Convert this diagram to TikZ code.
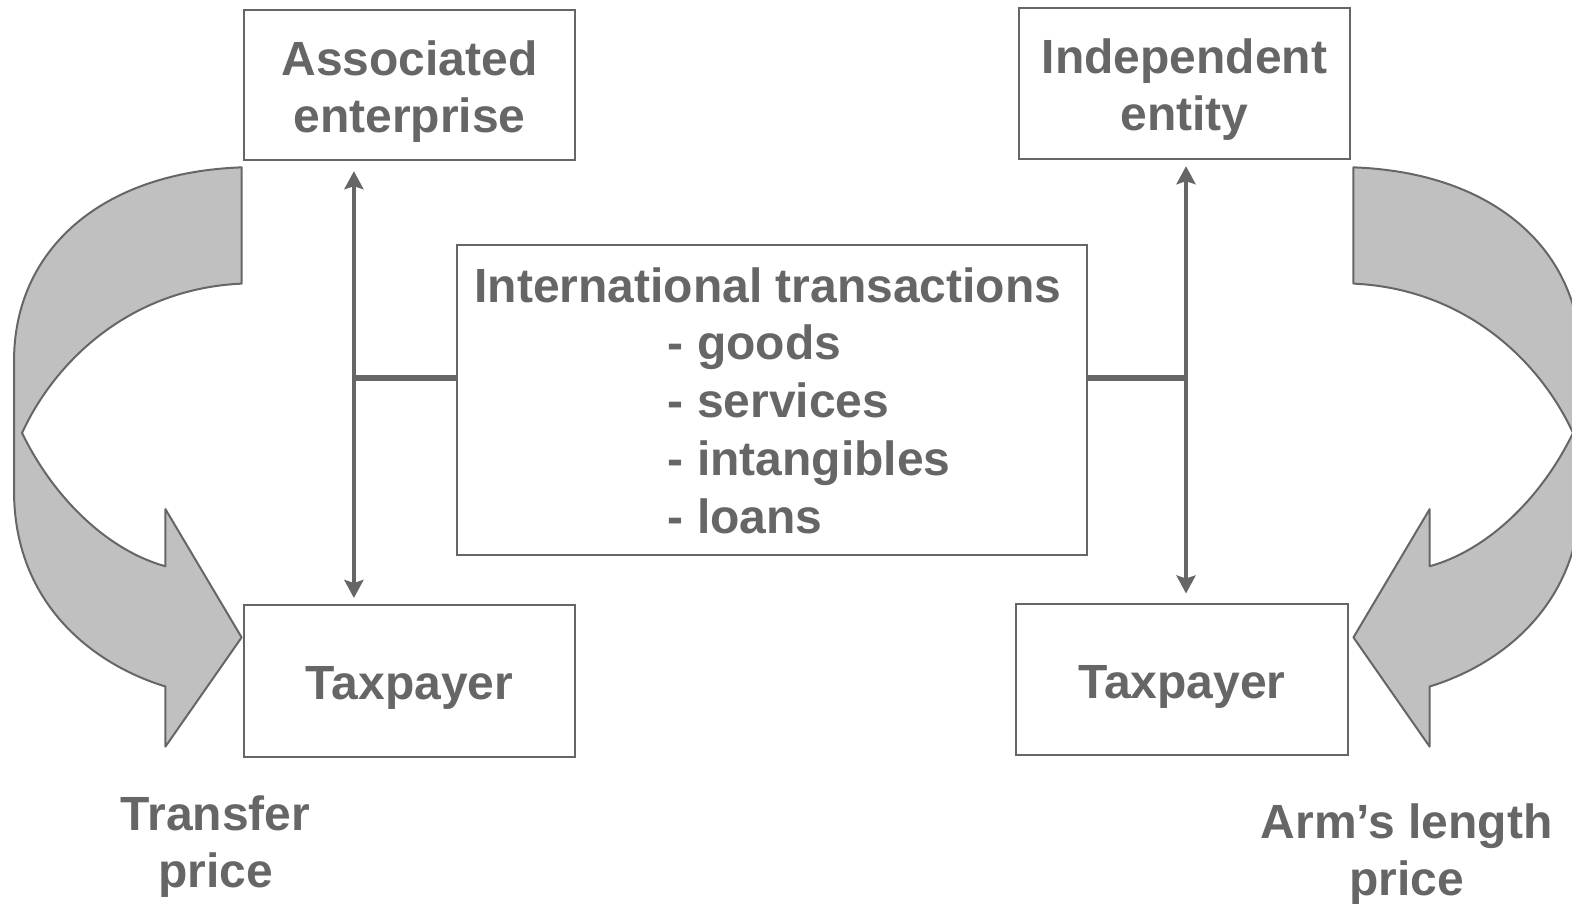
\documentclass[tikz,border=0pt]{standalone}
\usepackage{fontspec}
\setmainfont{Liberation Sans}
\usetikzlibrary{arrows.meta}
\definecolor{ink}{HTML}{666666}
\definecolor{bandfill}{HTML}{C0C0C0}
\tikzset{
  txt/.style={text=ink, font=\fontsize{48}{57}\selectfont\bfseries, inner sep=0pt, align=center},
  entity/.style={draw=ink, line width=2pt, fill=white},
  link/.style={draw=ink, line width=5.5pt},
  tip/.tip={Stealth[width=19pt,length=18pt,inset=3pt]},
  dbl/.style={draw=ink, line width=4pt, tip-tip},
  band/.style={draw=ink, line width=2pt, fill=bandfill, line join=round}
}
% curved block arrow, in pixel units
\newcommand{\bendarrow}{%
  (241,167) -- (241,283) .. controls (130,288) and (55,360) .. (22,432)
  .. controls (55,500) and (110,550) .. (165,565) -- (165,508) -- (241,636)
  -- (165,745) -- (165,685) .. controls (90,662) and (14,600) .. (14,490)
  -- (14,360) .. controls (14,250) and (100,172) .. (241,167) -- cycle}
\begin{document}
\begin{tikzpicture}[x=1.00255pt,y=-1.0022pt]
\useasboundingbox (0,0) rectangle (1568,902);

\begin{scope}
  \clip (0,0) rectangle (1568,902);
  \path[band] \bendarrow;
  \begin{scope}[shift={(1591,0)}, xscale=-1]
    \path[band] \bendarrow;
  \end{scope}
\end{scope}

% boxes
\node[entity, minimum width=331pt, minimum height=150pt,
      label={[txt,yshift=-6pt]center:Associated\\enterprise}] (AE) at (408.5,85) {};
\node[entity, minimum width=331pt, minimum height=151pt,
      label={[txt,yshift=-6pt]center:Independent\\entity}] (IE) at (1181.5,83.5) {};
\node[entity, minimum width=331pt, minimum height=151pt,
      label={[txt,yshift=-7pt]center:Taxpayer}] (TL) at (408.5,679.5) {};
\node[entity, minimum width=332pt, minimum height=151pt,
      label={[txt,yshift=-7pt]center:Taxpayer}] (TR) at (1179,678.5) {};
\node[entity, minimum width=630pt, minimum height=310pt] (C) at (770,399) {};

% transaction list
\node[txt, anchor=base] (Ct) at (766,302) {International transactions};
\node[txt, anchor=base west] (C1) at (666,359) {- goods};
\node[txt, anchor=base west] (C2) at (666,417) {- services};
\node[txt, anchor=base west] (C3) at (666,474) {- intangibles};
\node[txt, anchor=base west] (C4) at (666,532) {- loans};

% connectors
\coordinate (lv) at (353,377);
\coordinate (rv) at (1183,377);
\draw[dbl] ([yshift=-10pt]AE.south -| lv) -- ([yshift=6.5pt]TL.north -| lv);
\draw[link] (lv) -- (C.west |- lv);
\draw[dbl] ([yshift=-6pt]IE.south -| rv) -- ([yshift=10pt]TR.north -| rv);
\draw[link] (C.east |- rv) -- (rv);

% price labels
\node[txt] (tp) at (215,845) {Transfer\\price};
\node[txt] (alp) at (1403,853) {Arm’s length\\price};
\end{tikzpicture}
\end{document}
